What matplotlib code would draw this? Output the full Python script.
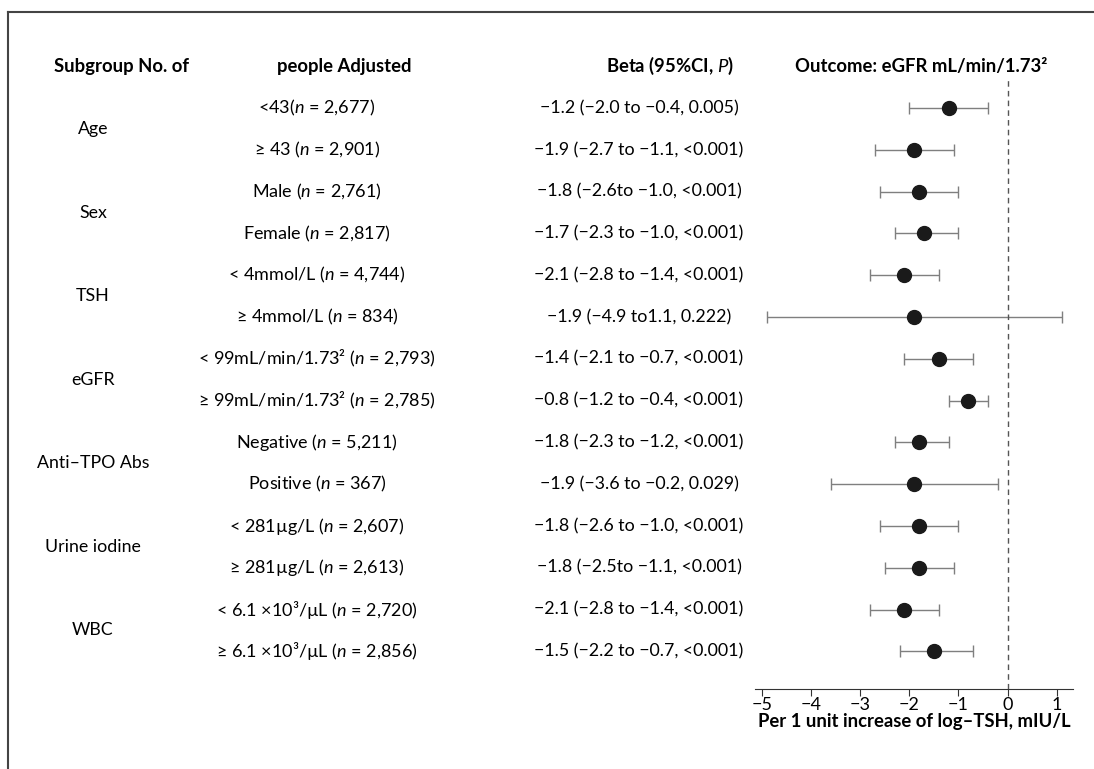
import numpy as np
import matplotlib
matplotlib.use("Agg")
import matplotlib.pyplot as plt
import matplotlib.transforms as mtransforms
from matplotlib.lines import Line2D

plt.rcParams['font.family'] = ['Lato', 'DejaVu Sans']
plt.rcParams['mathtext.fontset'] = 'custom'
plt.rcParams['mathtext.rm'] = 'Lato'
plt.rcParams['mathtext.it'] = 'Lato:italic'
plt.rcParams['mathtext.bf'] = 'Lato:bold'

# data
groups = ["Age", "Sex", "TSH", "eGFR", "Anti\u2013TPO Abs", "Urine iodine", "WBC"]
conds = ["<43", "\u2265 43 ", "Male ", "Female ", "< 4mmol/L ", "\u2265 4mmol/L ",
         "< 99mL/min/1.73\u00b2 ", "\u2265 99mL/min/1.73\u00b2 ", "Negative ", "Positive ",
         "< 281\u00b5g/L ", "\u2265 281\u00b5g/L ", "< 6.1 \u00d710\u00b3/\u00b5L ", "\u2265 6.1 \u00d710\u00b3/\u00b5L "]
ns = ["2,677", "2,901", "2,761", "2,817", "4,744", "834", "2,793", "2,785",
      "5,211", "367", "2,607", "2,613", "2,720", "2,856"]
beta = [-1.2, -1.9, -1.8, -1.7, -2.1, -1.9, -1.4, -0.8, -1.8, -1.9, -1.8, -1.8, -2.1, -1.5]
lo = [-2.0, -2.7, -2.6, -2.3, -2.8, -4.9, -2.1, -1.2, -2.3, -3.6, -2.6, -2.5, -2.8, -2.2]
hi = [-0.4, -1.1, -1.0, -1.0, -1.4, 1.1, -0.7, -0.4, -1.2, -0.2, -1.0, -1.1, -1.4, -0.7]
ci_text = ["\u22121.2 (\u22122.0 to \u22120.4, 0.005)",
           "\u22121.9 (\u22122.7 to \u22121.1, <0.001)",
           "\u22121.8 (\u22122.6to \u22121.0, <0.001)",
           "\u22121.7 (\u22122.3 to \u22121.0, <0.001)",
           "\u22122.1 (\u22122.8 to \u22121.4, <0.001)",
           "\u22121.9 (\u22124.9 to1.1, 0.222)",
           "\u22121.4 (\u22122.1 to \u22120.7, <0.001)",
           "\u22120.8 (\u22121.2 to \u22120.4, <0.001)",
           "\u22121.8 (\u22122.3 to \u22121.2, <0.001)",
           "\u22121.9 (\u22123.6 to \u22120.2, 0.029)",
           "\u22121.8 (\u22122.6 to \u22121.0, <0.001)",
           "\u22121.8 (\u22122.5to \u22121.1, <0.001)",
           "\u22122.1 (\u22122.8 to \u22121.4, <0.001)",
           "\u22121.5 (\u22122.2 to \u22120.7, <0.001)"]
xticks = [-5, -4, -3, -2, -1, 0, 1]

W, H = 1094, 769
fig = plt.figure(figsize=(W / 100, H / 100), dpi=100)
ax = fig.add_axes([755 / W, 80 / H, (1073 - 755) / W, (691 - 80) / H])

rows = np.arange(len(beta))
b = np.array(beta)
err = np.vstack([b - np.array(lo), np.array(hi) - b])
ax.errorbar(b, rows, xerr=err, fmt='none', ecolor='#7f7f7f', elinewidth=1,
            capsize=4, capthick=1)
ax.plot(b, rows, 'o', color='#1a1a1a', markersize=10)
ax.axvline(0, color='#555555', lw=1, ls=(0, (4, 3)))

ax.set_xlim(-5.14, 1.33)
ax.set_ylim(13.9, -0.72)
ax.set_xticks(xticks)
ax.set_xticklabels([str(t).replace('-', '\u2212') for t in xticks], fontsize=13)
ax.tick_params(axis='x', direction='out', length=5, color='#333333', pad=1)
ax.set_yticks([])
for s in ['top', 'right', 'left']:
    ax.spines[s].set_visible(False)
ax.spines['bottom'].set_color('#333333')
ax.set_xlabel("Per 1 unit increase of log\u2013TSH, mIU/L", fontsize=13.3,
              fontweight='bold', labelpad=0)

tr = mtransforms.blended_transform_factory(fig.transFigure, ax.transData)
for i in rows:
    ax.text(317 / W, i, conds[i] + "($\\it{n}$ = " + ns[i] + ")", transform=tr,
            ha='center', va='center', fontsize=13, clip_on=False)
    ax.text(639 / W, i, ci_text[i], transform=tr, ha='center', va='center',
            fontsize=12.8, clip_on=False)
for k, g in enumerate(groups):
    ax.text(93 / W, 2 * k + 0.5, g, transform=tr, ha='center', va='center',
            fontsize=12.8, clip_on=False)

hy = -1.0
hdr = dict(transform=tr, ha='center', va='center', fontsize=13.3, fontweight='bold',
           clip_on=False)
ax.text(122 / W, hy, "Subgroup No. of", **hdr)
ax.text(344 / W, hy, "people Adjusted", **hdr)
ax.text(670 / W, hy, "Beta (95%CI, $\\mathbf{\\it{P}}$)", **hdr)
ax.text(921 / W, hy, "Outcome: eGFR mL/min/1.73\u00b2", **hdr)

# frame lines
fig.add_artist(Line2D([8 / W, 1.0], [1 - 12 / H, 1 - 12 / H], color='#444444', lw=1.5))
fig.add_artist(Line2D([8 / W, 8 / W], [0, 1 - 12 / H], color='#444444', lw=1.5))

fig.savefig("out.png", dpi=100)
